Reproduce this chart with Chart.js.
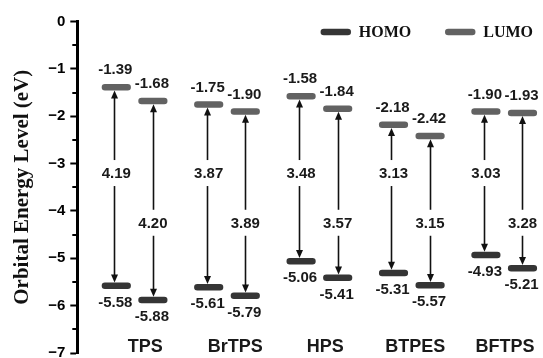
<!DOCTYPE html>
<html>
<head>
<meta charset="utf-8">
<script src="https://cdn.jsdelivr.net/npm/chart.js@4/dist/chart.umd.min.js"></script>
<style>
  html, body { margin: 0; padding: 0; background: #fff; overflow: hidden; }
  #wrap { width: 543px; height: 368px; }
</style>
</head>
<body>
<div id="wrap"><canvas id="chart"></canvas></div>
<script>
'use strict';

const categories = ['TPS', 'BrTPS', 'HPS', 'BTPES', 'BFTPS'];
// two columns per compound, left then right
const lumo = [-1.39, -1.68, -1.75, -1.90, -1.58, -1.84, -2.18, -2.42, -1.90, -1.93];
const homo = [-5.58, -5.88, -5.61, -5.79, -5.06, -5.41, -5.31, -5.57, -4.93, -5.21];
const gaps = [4.19, 4.20, 3.87, 3.89, 3.48, 3.57, 3.13, 3.15, 3.03, 3.28];
const yTicks = [0, -1, -2, -3, -4, -5, -6, -7];

const HOMO_COLOR = '#353535';
const LUMO_COLOR = '#626262';
const TEXT_COLOR = '#1a1a1a';
const COL_OFFSET = 0.198;   // column offset from the group centre, x units
const HALF_BAR = 0.123;     // half length of a level bar, x units
const GAP_LABEL_Y = [-3.2, -4.25];

function colX(i) {
  return Math.floor(i / 2) + (i % 2 === 0 ? -COL_OFFSET : COL_OFFSET);
}

function levelSegments(values) {
  const pts = [];
  values.forEach(function (v, i) {
    const cx = colX(i);
    pts.push({ x: cx - HALF_BAR, y: v }, { x: cx + HALF_BAR, y: v }, { x: cx, y: null });
  });
  return pts;
}

const valueFont = 'bold 15px "Liberation Sans", Arial, sans-serif';

// arrows, gap values and level values
const annotatePlugin = {
  id: 'annotate',
  afterDatasetsDraw: function (chart) {
    const ctx = chart.ctx;
    const xs = chart.scales.x;
    const ys = chart.scales.y;
    const half = 3.2;
    const headLen = 8;
    const headW = 3.5;
    ctx.save();
    ctx.strokeStyle = '#111';
    ctx.fillStyle = '#111';
    ctx.lineWidth = 1.6;
    for (let i = 0; i < lumo.length; i++) {
      const px = Math.round(xs.getPixelForValue(colX(i))) - 0.5 * (i % 2 === 0 ? 3 : -1);
      const top = ys.getPixelForValue(lumo[i]) + half;
      const bot = ys.getPixelForValue(homo[i]) - half;
      ctx.beginPath();
      ctx.moveTo(px, top + headLen - 1);
      ctx.lineTo(px, bot - headLen + 1);
      ctx.stroke();
      ctx.beginPath();
      ctx.moveTo(px, top);
      ctx.lineTo(px - headW, top + headLen);
      ctx.lineTo(px + headW, top + headLen);
      ctx.closePath();
      ctx.fill();
      ctx.beginPath();
      ctx.moveTo(px, bot);
      ctx.lineTo(px - headW, bot - headLen);
      ctx.lineTo(px + headW, bot - headLen);
      ctx.closePath();
      ctx.fill();
    }

    ctx.font = valueFont;
    ctx.textAlign = 'center';
    ctx.textBaseline = 'middle';
    for (let i = 0; i < gaps.length; i++) {
      const px = xs.getPixelForValue(colX(i));
      const py = ys.getPixelForValue(GAP_LABEL_Y[i % 2]);
      const txt = gaps[i].toFixed(2);
      const w = ctx.measureText(txt).width;
      ctx.fillStyle = '#fff';
      ctx.fillRect(px - w / 2 - 2, py - 13, w + 4, 26);
      ctx.fillStyle = TEXT_COLOR;
      ctx.fillText(txt, px, py + 1);
    }

    ctx.fillStyle = TEXT_COLOR;
    for (let i = 0; i < lumo.length; i++) {
      const px = xs.getPixelForValue(colX(i));
      ctx.fillText(lumo[i].toFixed(2), px - 1, ys.getPixelForValue(lumo[i]) - 17);
      ctx.fillText(homo[i].toFixed(2), px - 1, ys.getPixelForValue(homo[i]) + 17);
    }
    ctx.restore();
  }
};

// minor ticks half way between the labelled ones
const minorTickPlugin = {
  id: 'minorTicks',
  afterDraw: function (chart) {
    const ctx = chart.ctx;
    const ys = chart.scales.y;
    const left = chart.chartArea.left;
    ctx.save();
    ctx.strokeStyle = '#000';
    ctx.lineWidth = 2;
    for (let k = 0; k < yTicks.length - 1; k++) {
      const py = Math.round(ys.getPixelForValue((yTicks[k] + yTicks[k + 1]) / 2));
      ctx.beginPath();
      ctx.moveTo(left - 5, py);
      ctx.lineTo(left, py);
      ctx.stroke();
    }
    ctx.restore();
  }
};

// legend inside the plot, top right
const legendPlugin = {
  id: 'levelLegend',
  afterDraw: function (chart) {
    const ctx = chart.ctx;
    const area = chart.chartArea;
    const boxLen = 30;
    const y = area.top + 10.5;
    let x = area.right - 10;
    ctx.save();
    ctx.font = 'bold 16px "Liberation Serif", "Times New Roman", serif';
    ctx.textBaseline = 'middle';
    ctx.textAlign = 'left';
    ctx.lineCap = 'round';
    ctx.lineWidth = 6.5;
    const sets = chart.data.datasets;
    for (let k = sets.length - 1; k >= 0; k--) {
      const w = ctx.measureText(sets[k].label).width;
      x -= w;
      ctx.fillStyle = '#111';
      ctx.fillText(sets[k].label, x, y + 1);
      x -= 8;
      ctx.strokeStyle = sets[k].borderColor;
      ctx.beginPath();
      ctx.moveTo(x - boxLen + 3, y);
      ctx.lineTo(x - 3, y);
      ctx.stroke();
      x -= boxLen + 34;
    }
    ctx.restore();
  }
};

const ctx = document.getElementById('chart').getContext('2d');
new Chart(ctx, {
  type: 'line',
  data: {
    datasets: [
      {
        label: 'HOMO',
        data: levelSegments(homo),
        borderColor: HOMO_COLOR,
        borderWidth: 6.5,
        borderCapStyle: 'round',
        pointRadius: 0,
        spanGaps: false,
        xAxisID: 'x',
        yAxisID: 'y',
      },
      {
        label: 'LUMO',
        data: levelSegments(lumo),
        borderColor: LUMO_COLOR,
        borderWidth: 6.5,
        borderCapStyle: 'round',
        pointRadius: 0,
        spanGaps: false,
        xAxisID: 'x',
        yAxisID: 'y',
      },
    ],
  },
  options: {
    responsive: true,
    maintainAspectRatio: false,
    animation: false,
    layout: { padding: { left: 10, top: 21.5, right: 0, bottom: 15 } },
    plugins: {
      legend: { display: false },
      tooltip: { enabled: false },
    },
    scales: {
      x: { type: 'linear', min: -0.62, max: 4.42, display: false },
      xcat: {
        type: 'linear',
        axis: 'x',
        min: -0.755,
        max: 4.421,
        position: { y: -6.645 },
        grid: { display: false, drawTicks: false },
        border: { display: false },
        ticks: {
          includeBounds: false,
          stepSize: 1,
          padding: 0,
          maxRotation: 0,
          autoSkip: false,
          color: TEXT_COLOR,
          font: { family: 'Liberation Sans', size: 18, weight: 'bold' },
          callback: function (v) {
            return categories[v] !== undefined ? categories[v] : '';
          },
        },
      },
      y: {
        min: -7,
        max: 0,
        afterBuildTicks: function (scale) {
          scale.ticks = yTicks.map(function (v) { return { value: v }; });
        },
        border: { display: true, color: '#000', width: 3 },
        grid: { drawOnChartArea: false, tickLength: 7, tickWidth: 2, tickColor: '#000' },
        ticks: {
          color: '#000',
          padding: 5,
          font: { family: 'Liberation Sans', size: 15, weight: 'bold' },
          callback: function (v) {
            return String(v).replace('-', '\u2212');
          },
        },
        title: {
          display: true,
          text: 'Orbital Energy Level (eV)',
          color: '#111',
          font: { family: 'Liberation Serif', size: 21, weight: 'bold' },
          padding: { top: 0, bottom: 8 },
        },
      },
    },
  },
  plugins: [annotatePlugin, minorTickPlugin, legendPlugin],
});
</script>
</body>
</html>
